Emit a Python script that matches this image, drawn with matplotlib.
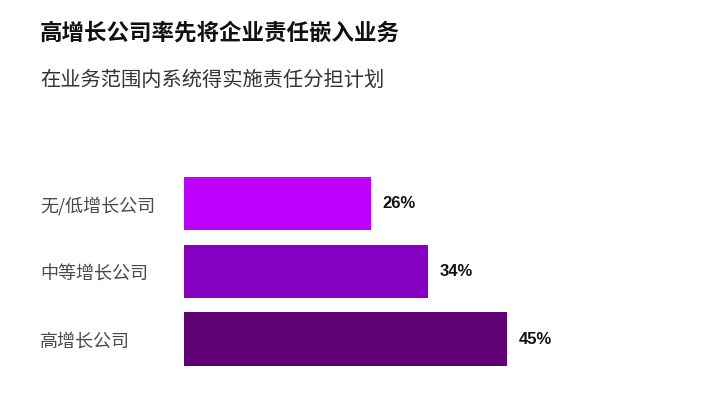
import matplotlib
matplotlib.use('Agg')
import matplotlib.pyplot as plt

TITLE = '高增长公司率先将企业责任嵌入业务'
SUBTITLE = '在业务范围内系统得实施责任分担计划'
categories = ['无/低增长公司', '中等增长公司', '高增长公司']
values = [26, 34, 45]
colors = ['#BE00FF', '#8500C0', '#5F0073']

plt.rcParams['font.family'] = ['Noto Sans CJK SC', 'DejaVu Sans']

fig = plt.figure(figsize=(7.24, 4.07), dpi=100)
ax = fig.add_axes([184 / 724, 1 - 373.1 / 407, 431 / 724, (373.1 - 169.8) / 407])

pos = list(range(len(categories)))
ax.barh(pos, values, height=0.79, color=colors)
ax.set_xlim(0, 60)
ax.set_ylim(2.5, -0.5)
for p, v in zip(pos, values):
  ax.text(v + 1.6, p, '%d%%' % v, va='center', ha='left', fontsize=12,
          fontweight='bold', family='Liberation Sans', color='#111111')

ax.set_yticks(pos)
ax.set_yticklabels(categories, fontsize=13, color='#4a4a4a', ha='left')
ax.tick_params(axis='y', length=0, pad=144 * 72 / 100)
ax.set_xticks([])
for s in ax.spines.values():
  s.set_visible(False)

fig.text(40 / 724, 1 - 33 / 407, TITLE, fontsize=16.2, fontweight='bold',
         color='#111111', va='center', ha='left')
fig.text(40 / 724, 1 - 80 / 407, SUBTITLE, fontsize=14.6, color='#333333',
         va='center', ha='left')

fig.savefig('out.png', dpi=100)
